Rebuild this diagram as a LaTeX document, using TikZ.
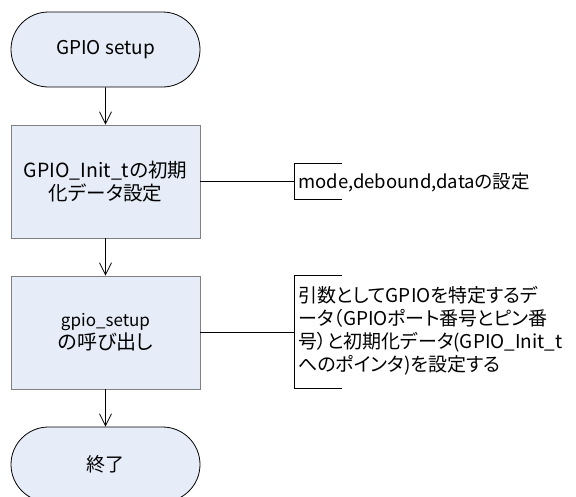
\documentclass[tikz,border=0pt]{standalone}
\usepackage{fontspec}
\setmainfont{Noto Sans CJK JP}[RawFeature=+palt]
\usetikzlibrary{shapes.misc,arrows.meta}
\definecolor{boxfill}{HTML}{E6EDF8}
\definecolor{boxline}{HTML}{808080}
\tikzset{
  terminal/.style={rounded rectangle, draw=black, fill=boxfill, line width=0.8pt,
    minimum width=189pt, minimum height=75pt, inner sep=0pt,
    font=\fontsize{19}{23}\selectfont},
  process/.style={rectangle, draw=boxline, fill=boxfill, line width=0.8pt,
    minimum width=189pt, minimum height=113pt, inner sep=0pt, align=center,
    font=\fontsize{19.5}{23}\selectfont},
  flow/.style={draw=black, line width=0.8pt, -{Straight Barb[length=12pt,width=12pt,line width=0.8pt]}},
  link/.style={draw=black, line width=0.8pt},
  notetext/.style={inner sep=0pt, align=left, font=\fontsize{19}{23}\selectfont}
}
\begin{document}
\begin{tikzpicture}[x=1pt,y=-1pt]
\useasboundingbox (0,0) rectangle (576,496);
\node[terminal] (start) at (105.5,49.5) {GPIO setup};
\node[process] (init) at (105.5,181.5) {GPIO\_Init\_tの初期\\化データ設定};
\node[process] (call) at (105.5,332.5) {{\fontsize{17}{19}\selectfont gpio\_setup}\\[0pt]{\fontsize{20}{23}\selectfont の呼び出し}};
\node[terminal] (end) at (105.5,464.5) {終了};
\draw[flow] (start) -- (init);
\draw[flow] (init) -- (call);
\draw[flow] (call) -- (end);
% note 1
\coordinate (b1) at (294,181.5);
\draw[link] (342,163) -- (294,163) -- (294,199) -- (342,199);
\draw[link] (init.east) -- (b1);
\node[notetext, anchor=west, font=\fontsize{18.5}{22}\selectfont] (note1) at (298,182) {mode,debound,dataの設定};
% note 2
\coordinate (b2) at (294,332.5);
\draw[link] (342,275) -- (294,275) -- (294,388) -- (342,388);
\draw[link] (call.east) -- (b2);
\node[notetext, anchor=north west] (note2) at (298,286) {引数としてGPIOを特定するデ\\ータ（GPIOポート番号とピン番\\号）と初期化データ(GPIO\_Init\_t\\へのポインタ)を設定する};
\end{tikzpicture}
\end{document}
